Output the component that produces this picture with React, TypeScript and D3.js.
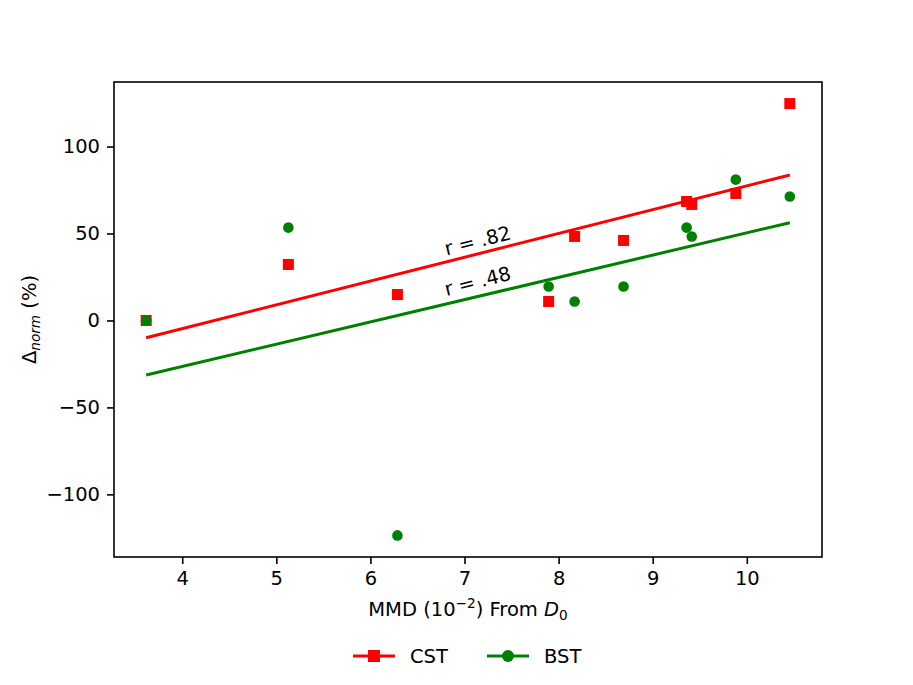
import React, { useEffect, useRef } from "react";
import * as d3 from "d3";

// MMD (10^-2) from D0 for each run
const mmd = [3.617, 5.128, 6.287, 7.894, 8.17, 8.69, 9.36, 9.415, 9.883, 10.457];
// Δnorm (%) per series
const cstValues = [0, 32.2, 14.9, 10.9, 48.3, 46, 68.4, 66.7, 73, 124.7];
const bstValues = [0, 53.4, -123.6, 19.5, 10.9, 19.5, 53.4, 48.3, 81, 71.3];
const xTicks = [4, 5, 6, 7, 8, 9, 10];
const yTicks = [-100, -50, 0, 50, 100];
const seriesNames = ["CST", "BST"];
const rLabels = ["r = .82", "r = .48"];
const rLabelPos = [
  [7.14, 45.7],
  [7.14, 22.4],
];

const fitLine = (xs: number[], ys: number[]) => {
  const mx = d3.mean(xs)!;
  const my = d3.mean(ys)!;
  let sxy = 0;
  let sxx = 0;
  xs.forEach((x, i) => {
    sxy += (x - mx) * (ys[i] - my);
    sxx += (x - mx) * (x - mx);
  });
  const b = sxy / sxx;
  const a = my - b * mx;
  const [x0, x1] = d3.extent(xs) as [number, number];
  return [
    [x0, a + b * x0],
    [x1, a + b * x1],
  ];
};

export default function App() {
  const ref = useRef<SVGSVGElement>(null);

  useEffect(() => {
    document.body.style.margin = "0";
    const width = 913;
    const height = 685;
    const margin = { top: 82, right: 91, bottom: 128, left: 114 };
    const font = "DejaVu Sans, sans-serif";
    const fs = 19.5;

    const svg = d3.select(ref.current!);
    svg.selectAll("*").remove();
    svg.attr("width", width).attr("height", height);

    const pad = (lo: number, hi: number) => [lo - (hi - lo) * 0.05, hi + (hi - lo) * 0.05];
    const [xlo, xhi] = d3.extent(mmd) as [number, number];
    const allY = [...cstValues, ...bstValues];
    const [ylo, yhi] = d3.extent(allY) as [number, number];

    const x = d3.scaleLinear().domain(pad(xlo, xhi)).range([margin.left, width - margin.right]);
    const y = d3.scaleLinear().domain(pad(ylo, yhi)).range([height - margin.bottom, margin.top]);

    const colors = ["#ff0000", "#008000"];
    const values = [cstValues, bstValues];

    const g = svg.append("g");

    // regression lines
    const line = d3.line<number[]>().x(d => x(d[0])).y(d => y(d[1]));
    values.forEach((vals, k) => {
      g.append("path")
        .attr("d", line(fitLine(mmd, vals)))
        .attr("fill", "none")
        .attr("stroke", colors[k])
        .attr("stroke-width", 3);
    });

    // points: CST squares, BST circles
    g.selectAll(".cst")
      .data(cstValues)
      .enter()
      .append("rect")
      .attr("x", (d, i) => x(mmd[i]) - 5.5)
      .attr("y", d => y(d) - 5.5)
      .attr("width", 11)
      .attr("height", 11)
      .attr("fill", colors[0]);

    g.selectAll(".bst")
      .data(bstValues)
      .enter()
      .append("circle")
      .attr("cx", (d, i) => x(mmd[i]))
      .attr("cy", d => y(d))
      .attr("r", 5.3)
      .attr("fill", colors[1]);

    // r labels
    rLabels.forEach((t, k) => {
      const [lx, ly] = rLabelPos[k];
      g.append("text")
        .attr("transform", `translate(${x(lx)},${y(ly)}) rotate(-14)`)
        .attr("text-anchor", "middle")
        .attr("dominant-baseline", "central")
        .style("font-family", font)
        .style("font-size", `${fs}px`)
        .text(t);
    });

    // frame
    svg.append("rect")
      .attr("x", margin.left)
      .attr("y", margin.top)
      .attr("width", width - margin.left - margin.right)
      .attr("height", height - margin.top - margin.bottom)
      .attr("fill", "none")
      .attr("stroke", "black")
      .attr("stroke-width", 1.6);

    // axes
    const xAxis = svg.append("g")
      .attr("transform", `translate(0,${height - margin.bottom})`)
      .call(d3.axisBottom(x).tickValues(xTicks).tickSize(7).tickPadding(7).tickFormat(d3.format("d")));
    const yAxis = svg.append("g")
      .attr("transform", `translate(${margin.left},0)`)
      .call(d3.axisLeft(y).tickValues(yTicks).tickSize(7).tickPadding(7).tickFormat(d => d3.format("d")(d as number).replace("-", "\u2212")));
    [xAxis, yAxis].forEach(a => {
      a.select(".domain").remove();
      a.selectAll(".tick line").attr("stroke", "black").attr("stroke-width", 1.6);
      a.selectAll(".tick text")
        .attr("fill", "black")
        .style("font-family", font)
        .style("font-size", `${fs}px`);
    });

    // x label
    const xl = svg.append("text")
      .attr("x", (margin.left + width - margin.right) / 2)
      .attr("y", 616)
      .attr("text-anchor", "middle")
      .style("font-family", font)
      .style("font-size", `${fs}px`);
    xl.append("tspan").text("MMD (10");
    xl.append("tspan").attr("dy", -8).style("font-size", `${fs * 0.7}px`).text("\u22122");
    xl.append("tspan").attr("dy", 8).text(") From ");
    xl.append("tspan").style("font-style", "italic").text("D");
    xl.append("tspan").attr("dy", 4).style("font-size", `${fs * 0.7}px`).text("0");

    // y label
    const yl = svg.append("text")
      .attr("transform", `translate(36,${(margin.top + height - margin.bottom) / 2}) rotate(-90)`)
      .attr("text-anchor", "middle")
      .style("font-family", font)
      .style("font-size", `${fs}px`);
    yl.append("tspan").text("\u0394");
    yl.append("tspan").attr("dy", 4).style("font-size", `${fs * 0.7}px`).style("font-style", "italic").text("norm");
    yl.append("tspan").attr("dy", -4).text(" (%)");

    // legend
    const leg = svg.append("g").attr("transform", "translate(0,656)");
    const legX = [353, 487];
    seriesNames.forEach((name, k) => {
      const lg = leg.append("g").attr("transform", `translate(${legX[k]},0)`);
      lg.append("line").attr("x1", 0).attr("x2", 42).attr("y1", 0).attr("y2", 0)
        .attr("stroke", colors[k]).attr("stroke-width", 3);
      if (k === 0) {
        lg.append("rect").attr("x", 21 - 6).attr("y", -6).attr("width", 12).attr("height", 12).attr("fill", colors[k]);
      } else {
        lg.append("circle").attr("cx", 21).attr("cy", 0).attr("r", 6).attr("fill", colors[k]);
      }
      lg.append("text")
        .attr("x", 57)
        .attr("y", 0)
        .attr("dominant-baseline", "central")
        .style("font-family", font)
        .style("font-size", `${fs}px`)
        .text(name);
    });
  }, []);

  return <svg ref={ref}></svg>;
}
